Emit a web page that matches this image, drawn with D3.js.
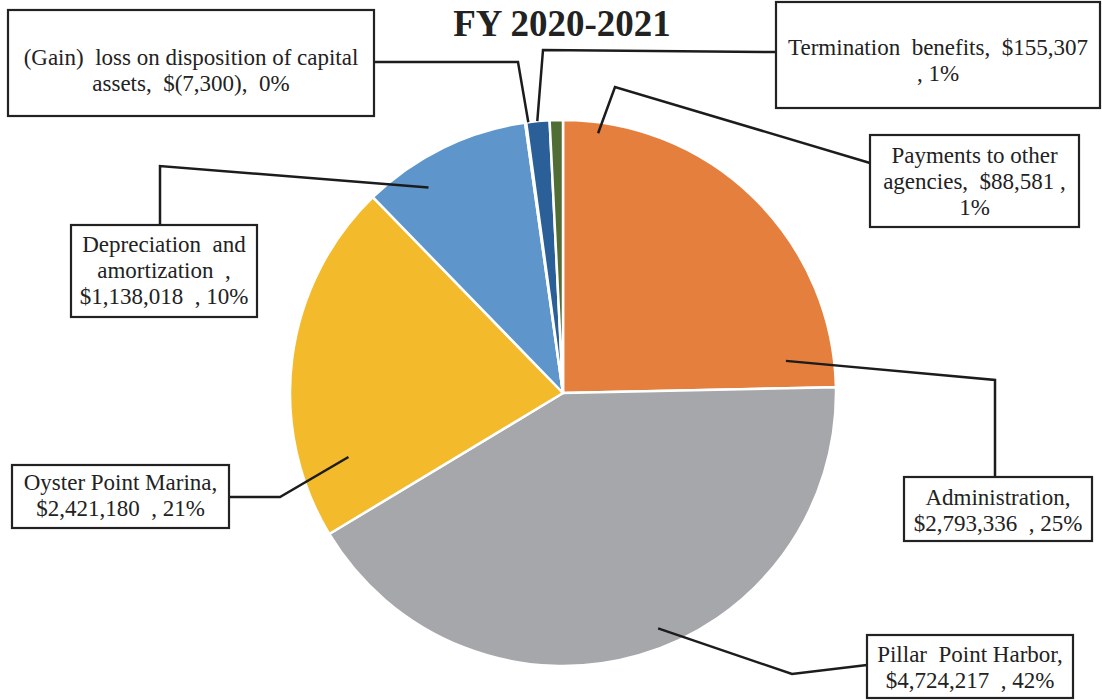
<!DOCTYPE html>
<html>
<head>
<meta charset="utf-8">
<script src="https://cdn.jsdelivr.net/npm/d3@7"></script>
<style>
  body { margin: 0; background: #fff; }
  svg { display: block; }
</style>
</head>
<body>
<script>
// data, clockwise from 12 o'clock
var categories = ['Administration', 'Pillar Point Harbor', 'Oyster Point Marina',
                  'Depreciation and amortization', '(Gain) loss on disposition of capital assets',
                  'Termination benefits', 'Payments to other agencies'];
var values = [2793336, 4724217, 2421180, 1138018, -7300, 155307, 88581];
var colors = ['#E57F3E', '#A6A7AB', '#F3BB2B', '#5E96CB', '#FFFFFF', '#2A5F97', '#4F6D35'];
var labelLines = [
  ['Administration,', '$2,793,336  , 25%'],
  ['Pillar  Point Harbor,', '$4,724,217  , 42%'],
  ['Oyster Point Marina,', '$2,421,180  , 21%'],
  ['Depreciation  and', 'amortization  ,', '$1,138,018  , 10%'],
  ['(Gain)  loss on disposition of capital', 'assets,  $(7,300),  0%'],
  ['Termination  benefits,  $155,307', ', 1%'],
  ['Payments to other', 'agencies,  $88,581 ,', '1%']
];
var title = 'FY 2020-2021';

// label layout: anchor on slice (deg, radius fraction), elbow, box
var layout = [
  {a: 81.8,  rf: 0.825, elbow: [995, 380], end: [995, 477], box: [904, 477, 188, 64],  base: 505},
  {a: 158.0, rf: 0.93,  elbow: [792, 674], end: [867, 665], box: [867, 635, 206, 63],  base: 662},
  {a: 253.4, rf: 0.82,  elbow: [280, 497], end: [229, 497], box: [12, 465, 217, 63],   base: 490},
  {a: 326.8, rf: 0.90,  elbow: [160, 166], end: [160, 225], box: [71, 225, 186, 92],   base: 252},
  {a: 352.7, rf: 1.0,   elbow: [518, 62],  end: [374, 62],  box: [8, 10, 366, 106],    base: 65},
  {a: 354.6, rf: 1.0,   elbow: [543, 50],  end: [776, 52],  box: [776, 2, 324, 106],   base: 55},
  {a: 7.7,   rf: 0.96,  elbow: [615, 87],  end: [870, 163], box: [870, 135, 209, 92],  base: 163}
];

var width = 1102, height = 700;
var cx = 563, cy = 393, radius = 273;
var lineH = 26;

var svg = d3.select('body').append('svg')
  .attr('width', width)
  .attr('height', height);

var data = categories.map(function(c, i) {
  return {name: c, value: values[i], color: colors[i], lines: labelLines[i], lay: layout[i]};
});

var pie = d3.pie()
  .sort(null)
  .value(function(d) { return Math.abs(d.value); });

var arc = d3.arc().innerRadius(0).outerRadius(radius);

var g = svg.append('g').attr('transform', 'translate(' + cx + ',' + cy + ')');

g.selectAll('path')
  .data(pie(data))
  .enter()
  .append('path')
  .attr('d', arc)
  .attr('fill', function(d) { return d.data.color; })
  .attr('stroke', '#fff')
  .attr('stroke-width', 2.5)
  .attr('stroke-linejoin', 'round');

// title
svg.append('text')
  .attr('x', 562)
  .attr('y', 36)
  .attr('text-anchor', 'middle')
  .style('font-family', '"Liberation Serif", "Times New Roman", serif')
  .style('font-weight', 'bold')
  .style('font-size', '37px')
  .attr('fill', '#222')
  .text(title);

// leader lines
svg.selectAll('polyline.leader')
  .data(data)
  .enter()
  .append('polyline')
  .attr('class', 'leader')
  .attr('points', function(d) {
    var p = d3.pointRadial(d.lay.a * Math.PI / 180, d.lay.rf * radius);
    var start = [cx + p[0], cy + p[1]];
    return [start, d.lay.elbow, d.lay.end].map(function(q) { return q.join(','); }).join(' ');
  })
  .attr('fill', 'none')
  .attr('stroke', '#1c1c1c')
  .attr('stroke-width', 2.5);

// label boxes
var lab = svg.selectAll('g.lab')
  .data(data)
  .enter()
  .append('g')
  .attr('class', 'lab');

lab.append('rect')
  .attr('x', function(d) { return d.lay.box[0]; })
  .attr('y', function(d) { return d.lay.box[1]; })
  .attr('width', function(d) { return d.lay.box[2]; })
  .attr('height', function(d) { return d.lay.box[3]; })
  .attr('fill', '#fff')
  .attr('stroke', '#222')
  .attr('stroke-width', 2.2);

lab.each(function(d) {
  var t = d3.select(this).append('text')
    .attr('text-anchor', 'middle')
    .style('font-family', '"Liberation Serif", "Times New Roman", serif')
    .style('font-size', '23px')
    .style('white-space', 'pre')
    .attr('fill', '#222');
  d.lines.forEach(function(s, i) {
    t.append('tspan')
      .attr('x', d.lay.box[0] + d.lay.box[2] / 2)
      .attr('y', d.lay.base + i * lineH)
      .text(s);
  });
});
</script>
</body>
</html>
